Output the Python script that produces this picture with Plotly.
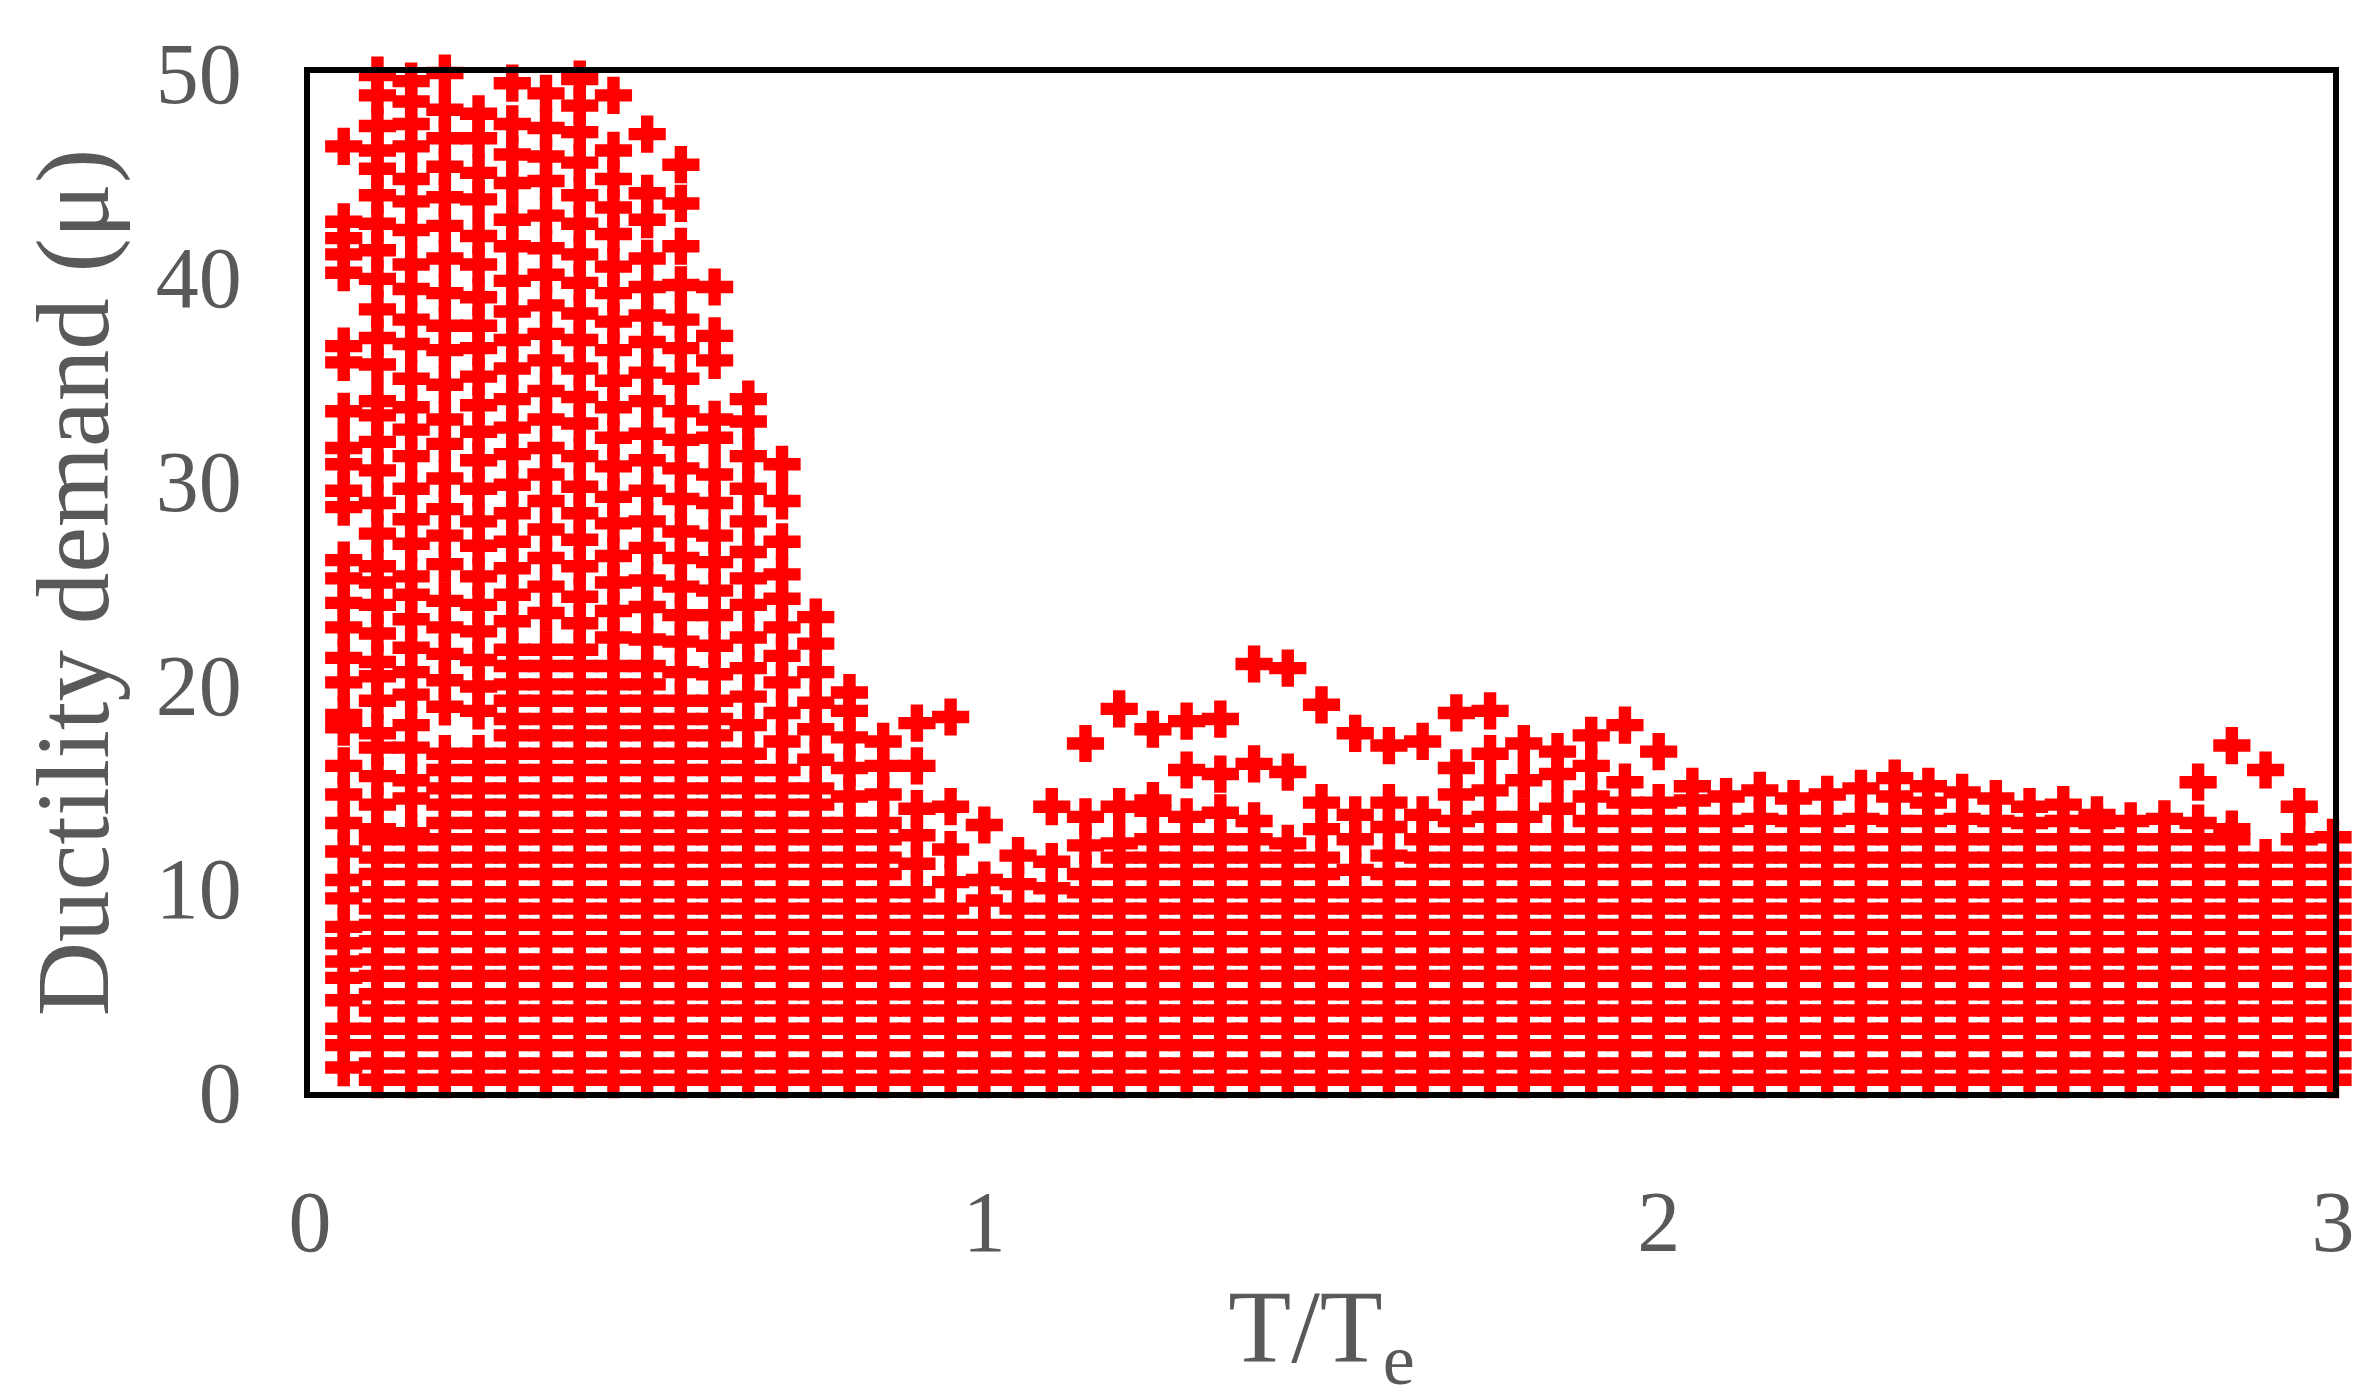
import plotly.graph_objects as go

# T/Te positions of the columns
x_cols = [0.05, 0.10, 0.15, 0.20, 0.25, 0.30, 0.35, 0.40, 0.45, 0.50,
          0.55, 0.60, 0.65, 0.70, 0.75, 0.80, 0.85, 0.90, 0.95, 1.00,
          1.05, 1.10, 1.15, 1.20, 1.25, 1.30, 1.35, 1.40, 1.45, 1.50,
          1.55, 1.60, 1.65, 1.70, 1.75, 1.80, 1.85, 1.90, 1.95, 2.00,
          2.05, 2.10, 2.15, 2.20, 2.25, 2.30, 2.35, 2.40, 2.45, 2.50,
          2.55, 2.60, 2.65, 2.70, 2.75, 2.80, 2.85, 2.90, 2.95, 3.00]

LOW = [0.6, 1.4, 2.3, 3.1, 4.0, 4.8, 5.7, 6.5, 7.4, 8.2]
MID = [9.0, 9.8, 10.7, 11.5, 12.4]
UPP = [13.2, 14.1, 14.9, 15.8, 16.6, 17.5, 18.3, 19.2, 20.0, 20.9, 21.7]

# ductility demand values per column
y_cols = [
    [1.2, 2.3, 3.1, 4.5, 5.6, 6.4, 7.3, 8.1, 9.5, 10.4, 11.8, 13.2, 14.6, 16.0, 17.9, 18.5, 20.1, 21.3, 22.8, 24.0, 25.2, 26.1, 28.7, 29.5, 30.8, 31.6, 33.4, 35.8, 36.6, 40.2, 41.1, 41.9, 42.7, 46.4],
    LOW + MID + [12.9, 14.1, 15.5, 16.9, 17.6, 19.2, 20.4, 21.1, 22.5, 23.9, 25.0, 25.8, 27.4, 28.9, 30.5, 31.9, 33.2, 33.9, 35.7, 37.0, 38.4, 39.9, 41.3, 42.6, 44.0, 45.3, 46.2, 47.4, 48.9, 49.9],
    LOW + MID + [12.7, 14.4, 15.3, 16.9, 18.0, 19.5, 20.6, 21.8, 23.2, 24.4, 25.3, 26.9, 28.1, 29.6, 31.2, 32.5, 33.6, 35.0, 36.7, 37.9, 39.4, 40.6, 42.3, 43.7, 44.8, 46.4, 47.5, 48.6, 49.6],
    LOW + MID + UPP[:5] + [18.9, 20.2, 21.5, 22.8, 24.1, 25.9, 27.3, 28.6, 30.1, 31.8, 33.0, 34.7, 36.4, 37.6, 39.2, 40.9, 42.5, 43.9, 45.4, 46.8, 48.2, 50.0],
    LOW + MID + UPP[:5] + [18.7, 19.9, 21.2, 22.6, 23.9, 25.3, 26.8, 28.0, 29.6, 31.0, 32.4, 33.7, 35.1, 36.5, 37.6, 39.0, 40.6, 42.0, 43.8, 45.1, 46.8, 48.0],
    LOW + MID + UPP + [23.1, 24.4, 25.7, 27.0, 28.4, 29.8, 31.3, 32.6, 34.0, 35.5, 36.9, 38.3, 39.8, 41.5, 42.8, 44.6, 46.0, 47.5, 49.5],
    LOW + MID + UPP + [23.5, 24.8, 26.2, 27.6, 29.0, 30.3, 31.6, 33.0, 34.4, 35.9, 37.2, 38.6, 40.1, 41.4, 43.0, 44.7, 45.9, 47.3, 49.0],
    LOW + MID + UPP + [23.0, 24.3, 25.8, 27.1, 28.4, 29.7, 31.2, 32.8, 34.1, 35.5, 36.9, 38.2, 39.7, 41.1, 42.6, 44.0, 45.6, 47.1, 48.4, 49.7],
    LOW + MID + UPP[:10] + [22.3, 23.6, 25.0, 26.3, 27.9, 29.2, 30.7, 32.1, 33.6, 34.9, 36.4, 37.8, 39.2, 40.5, 42.1, 43.4, 44.8, 46.2, 48.9],
    LOW + MID + UPP[:10] + [22.2, 23.8, 25.1, 26.7, 28.0, 29.5, 31.0, 32.3, 33.9, 35.3, 36.8, 38.1, 39.5, 40.9, 42.8, 44.1, 47.0],
    LOW + MID + UPP[:8] + [20.6, 22.1, 23.4, 24.8, 26.2, 27.5, 29.1, 30.6, 32.0, 33.4, 35.0, 36.5, 37.9, 39.6, 41.5, 43.6, 45.5],
    LOW + MID + UPP[:8] + [20.5, 21.9, 23.4, 24.6, 26.0, 27.3, 28.9, 30.3, 32.1, 33.0, 35.9, 37.1, 39.5],
    LOW + MID + UPP[:5] + [18.0, 19.4, 20.8, 22.3, 23.9, 25.2, 26.5, 28.0, 29.6, 31.2, 32.9, 34.0],
    LOW + MID + UPP[:4] + [17.2, 18.6, 20.1, 21.4, 22.8, 24.2, 25.4, 27.0, 29.0, 30.8],
    LOW + MID + UPP[:3] + [16.3, 17.8, 19.1, 20.6, 22.0, 23.3],
    LOW + MID + UPP[:1] + [14.5, 15.9, 17.4, 18.7, 19.6],
    LOW + MID + UPP[:1] + [14.6, 16.0, 17.2],
    LOW + MID[:2] + [11.2, 12.6, 13.9, 16.0, 18.1],
    LOW + MID[:1] + [10.3, 11.9, 14.0, 18.4],
    LOW + [9.4, 10.4, 13.1],
    LOW + [9.0, 10.2, 11.6],
    LOW + [9.0, 10.0, 11.3, 14.0],
    LOW + MID[:3] + [12.1, 13.5, 17.1],
    LOW + MID[:4] + [12.2, 14.0, 18.8],
    LOW + MID + [13.8, 14.3, 17.8],
    LOW + MID + [13.5, 15.8, 18.2],
    LOW + MID + [13.7, 15.6, 18.3],
    LOW + MID + [13.3, 16.1, 21.0],
    LOW + MID[:4] + [12.2, 15.7, 20.8],
    LOW + MID[:4] + [12.9, 14.2, 19.0],
    LOW + MID[:2] + [10.9, 12.4, 13.6, 17.6],
    LOW + MID[:3] + [11.6, 13.0, 14.2, 17.0],
    LOW + MID + [13.6, 17.2],
    LOW + MID + [13.3, 14.6, 15.9, 18.6],
    LOW + MID + [13.5, 14.8, 16.6, 18.7],
    LOW + MID + [13.5, 15.3, 17.1],
    LOW + MID + [13.9, 15.6, 16.7],
    LOW + MID + [13.3, 14.5, 16.0, 17.5],
    LOW + MID + [13.3, 14.2, 15.2, 18.0],
    LOW + MID + [13.3, 14.2, 16.7],
    LOW + MID + [13.3, 14.3, 15.0],
    LOW + MID + [13.3, 14.5],
    LOW + MID + [13.4, 14.8],
    LOW + MID + [13.3, 14.4],
    LOW + MID + [13.3, 14.6],
    LOW + MID + [13.4, 14.9],
    LOW + MID + [13.3, 14.5, 15.4],
    LOW + MID + [13.3, 14.2, 15.0],
    LOW + MID + [13.4, 14.7],
    LOW + MID + [13.3, 14.4],
    LOW + MID + [13.2, 14.0],
    LOW + MID + [13.3, 14.1],
    LOW + MID + [13.2, 13.6],
    LOW + MID + [13.3],
    LOW + MID + [13.4],
    LOW + MID + [13.2, 15.2],
    LOW + MID + [12.9, 17.0],
    LOW + MID[:4] + [15.8],
    LOW + MID + [14.0],
    LOW + MID[:4] + [12.5],
]

xs, ys = [], []
for xv, col in zip(x_cols, y_cols):
    xs.extend([xv] * len(col))
    ys.extend(col)

fig = go.Figure(go.Scatter(
    x=xs, y=ys, mode="markers",
    marker=dict(symbol="cross", size=31, color="#ff0000", line=dict(width=0)),
    cliponaxis=False, showlegend=False,
))

font_gray = "#595959"
fig.update_layout(
    width=2365, height=1392,
    paper_bgcolor="white", plot_bgcolor="white",
    margin=dict(l=302, r=40, t=65, b=308),
    font=dict(family="Liberation Serif", color=font_gray, size=86),
    xaxis=dict(range=[0, 3], tickvals=[0, 1, 2, 3], showgrid=False, zeroline=False,
               showline=True, linecolor="black", linewidth=6, mirror=True,
               ticks="outside", ticklen=50, tickcolor="white",
               title=dict(text="T/T<sub>e</sub>", standoff=30)),
    yaxis=dict(range=[0, 50], tickvals=[0, 10, 20, 30, 40, 50], showgrid=False, zeroline=False,
               showline=True, linecolor="black", linewidth=6, mirror=True,
               ticks="outside", ticklen=45, tickcolor="white",
               title=dict(text="Ductility demand (μ)", standoff=15)),
)
fig.write_html("out.html")
